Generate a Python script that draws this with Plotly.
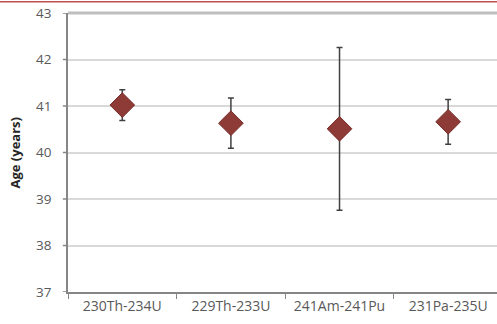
import plotly.graph_objects as go

categories = ["230Th-234U", "229Th-233U", "241Am-241Pu", "231Pa-235U"]
ages = [41.02, 40.63, 40.51, 40.66]
errors = [0.33, 0.54, 1.75, 0.48]
y_ticks = [37, 38, 39, 40, 41, 42, 43]

fig = go.Figure()
fig.add_trace(go.Scatter(
    x=categories, y=ages, mode="markers",
    marker=dict(symbol="diamond", size=19, color="#8e3a37",
                line=dict(color="#7a2f2c", width=1)),
    error_y=dict(type="data", array=errors, visible=True,
                 color="#404040", thickness=1.5, width=3),
    showlegend=False,
))

fig.update_layout(
    width=497, height=324,
    margin=dict(l=68, r=0, t=13, b=32, autoexpand=False),
    paper_bgcolor="white", plot_bgcolor="white",
    font=dict(family="Open Sans", size=13, color="#595959"),
    xaxis=dict(
        type="category", range=[-0.5, 3.45], automargin=False,
        showline=True, linecolor="#868686", linewidth=1.5,
        ticks="outside", ticklen=5, tickcolor="#868686",
        tickson="boundaries", showgrid=False,
        tickfont=dict(size=14, color="#595959"),
    ),
    yaxis=dict(
        range=[37, 43], tickvals=y_ticks, automargin=False,
        showline=True, linecolor="#868686", linewidth=1.5,
        ticks="outside", ticklen=12, tickcolor="white",
        showgrid=True, gridcolor="#d9d9d9", gridwidth=2,
        zeroline=False,
        tickfont=dict(size=13.5, color="#595959"),
    ),
    annotations=[dict(text="<b>Age (years)</b>", xref="paper", yref="paper",
                      x=(14 - 68) / 429, y=0.5, xanchor="center", yanchor="middle",
                      textangle=-90, showarrow=False,
                      font=dict(size=13, color="#262626"))],
    shapes=[
        dict(type="line", xref="paper", yref="paper",
             x0=-0.2, x1=1.1, y0=1.04, y1=1.04,
             line=dict(color="#c0504d", width=1.5)),
        dict(type="line", xref="paper", yref="paper",
             x0=0, x1=1, y0=1, y1=1,
             line=dict(color="#bfbfbf", width=3)),
    ],
)
for v in y_ticks:
    fig.add_shape(type="line", xref="paper", yref="y", x0=-0.012, x1=0, y0=v, y1=v,
                  line=dict(color="#868686", width=1.5))

fig.write_html("out.html", config={"displayModeBar": False},
               post_script="document.body.style.margin='0';document.body.style.padding='0';")
